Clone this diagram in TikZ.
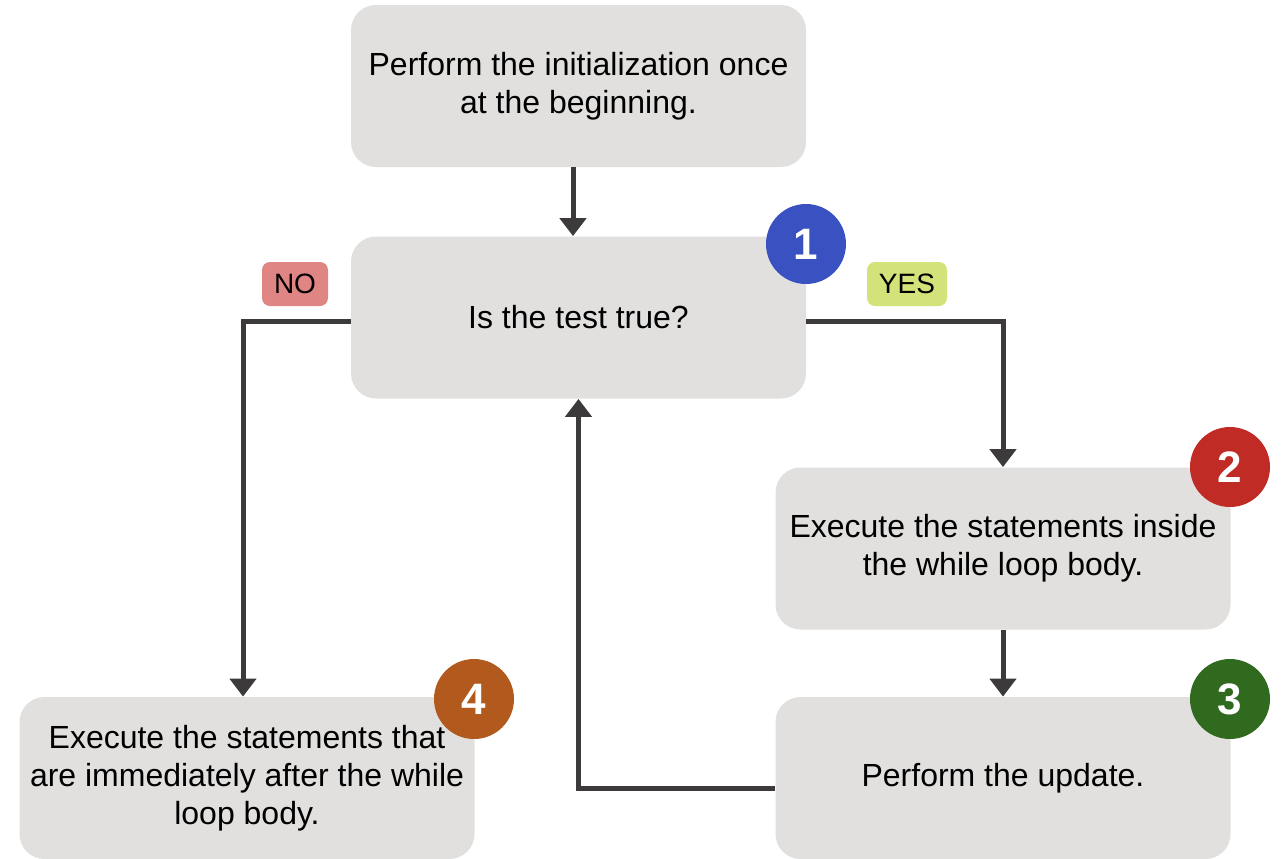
\documentclass[tikz,border=0pt]{standalone}
\usepackage{fontspec}
\setmainfont{Liberation Sans}
\usepackage{tikz}
\usetikzlibrary{arrows.meta}
\definecolor{boxgray}{HTML}{E1E0DF}
\definecolor{linegray}{HTML}{3C3A3B}
\definecolor{numblue}{HTML}{3A51C2}
\definecolor{numred}{HTML}{C02B25}
\definecolor{numgreen}{HTML}{2F6A1F}
\definecolor{numorange}{HTML}{B25A1E}
\definecolor{nored}{HTML}{DF8583}
\definecolor{yesgreen}{HTML}{D3E37A}
\tikzstyle{flow}=[x=0.5pt, y=-0.5pt, font=\fontsize{16pt}{19pt}\selectfont]
\tikzstyle{stepbox}=[rectangle, rounded corners=12.5pt, fill=boxgray, minimum width=227.5pt, minimum height=81pt, inner sep=2pt, align=center]
\tikzstyle{num}=[circle, minimum size=40pt, inner sep=0pt, text=white, font=\fontsize{22pt}{22pt}\selectfont\bfseries]
\tikzstyle{answer}=[rectangle, rounded corners=4pt, minimum width=33pt, minimum height=22pt, inner sep=0pt, font=\fontsize{14pt}{14pt}\selectfont]
\tikzstyle{edge}=[line width=2.5pt, draw=linegray, -{Triangle[width=13pt,length=9pt]}]
\begin{document}
\begin{tikzpicture}[flow]
\useasboundingbox (0,0) rectangle (1281,858);

\node[stepbox] (init) at (578.5,86) {Perform the initialization once\\at the beginning.};
\node[stepbox] (test) at (578.5,317.5) {Is the test true?};
\node[stepbox] (body) at (1003,548.5) {Execute the statements inside\\the while loop body.};
\node[stepbox] (update) at (1003,778) {Perform the update.};
\node[stepbox] (after) at (247,778) {Execute the statements that\\are immediately after the while\\loop body.};

%The step numbers
\node[num, fill=numblue] (n1) at (806,244) {1};
\node[num, fill=numred] (n2) at (1230,467) {2};
\node[num, fill=numgreen] (n3) at (1230,699) {3};
\node[num, fill=numorange] (n4) at (474,699) {4};

\node[answer, fill=nored] (no) at (295,284) {NO};
\node[answer, fill=yesgreen, minimum width=40pt] (yes) at (907,284) {YES};

\draw[edge] ([xshift=-2.75pt]init.south) -- ([xshift=-2.75pt]test.north);
\draw[edge] ([yshift=-1.75pt]test.west) -| ([xshift=-2pt]after.north);
\draw[edge] ([yshift=-1.75pt]test.east) -| (body.north);
\draw[edge] (body.south) -- (update.north);
\draw[edge] ([yshift=-5pt]update.west) -| (test.south);
\end{tikzpicture}
\end{document}
